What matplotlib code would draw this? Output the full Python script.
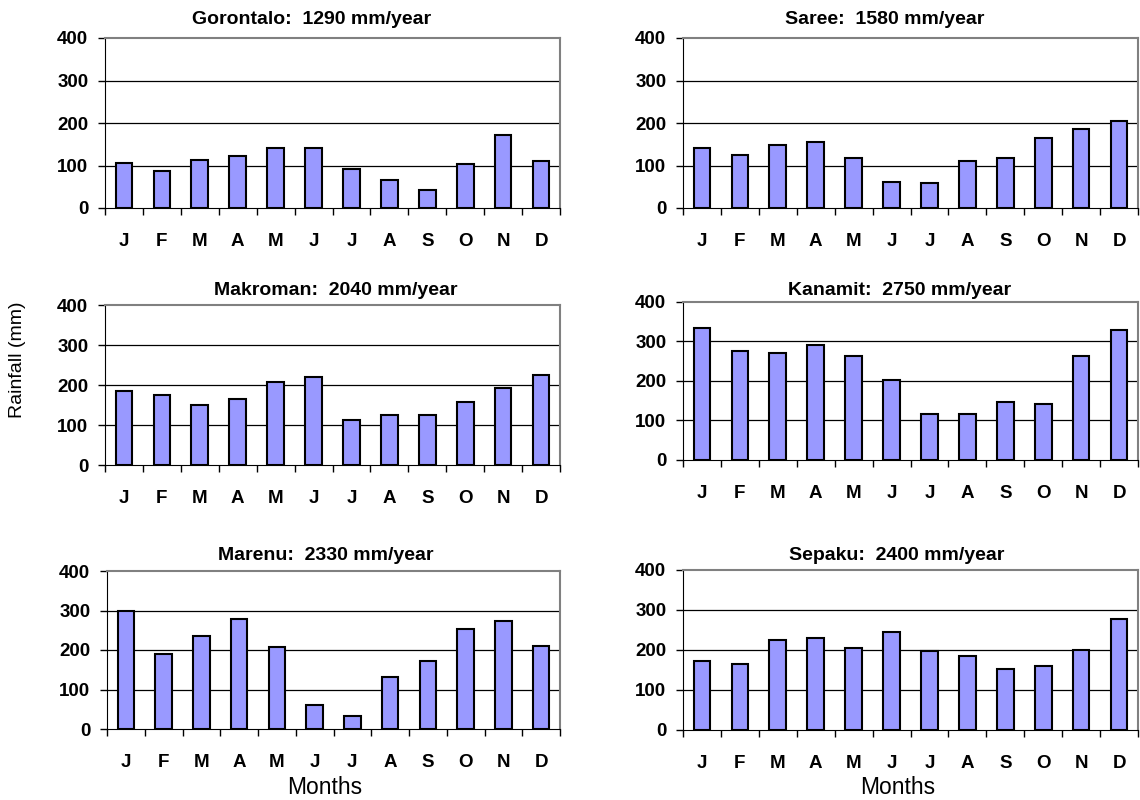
import matplotlib
matplotlib.use("Agg")
import matplotlib.pyplot as plt
import numpy as np

plt.rcParams['font.family'] = ['Liberation Sans', 'DejaVu Sans']

months = ["J", "F", "M", "A", "M", "J", "J", "A", "S", "O", "N", "D"]

gorontalo = [106, 88, 114, 122, 141, 141, 92, 66, 43, 104, 171, 111]
saree = [141, 125, 148, 155, 118, 61, 58, 110, 118, 164, 186, 204]
makroman = [184, 176, 149, 165, 208, 221, 112, 125, 125, 157, 192, 224]
kanamit = [335, 275, 270, 291, 263, 202, 117, 117, 146, 141, 263, 328]
marenu = [300, 190, 235, 279, 207, 61, 34, 131, 171, 252, 273, 211]
sepaku = [173, 165, 225, 229, 205, 246, 198, 185, 153, 161, 201, 278]

stations = ["Gorontalo", "Saree", "Makroman", "Kanamit", "Marenu", "Sepaku"]
totals = [1290, 1580, 2040, 2750, 2330, 2400]
series = [gorontalo, saree, makroman, kanamit, marenu, sepaku]

W, H = 1140, 800
# panel boxes in pixels: left, right, top, bottom
boxes = [(105, 560, 38, 208), (683, 1138, 38, 208),
         (105, 560, 305, 465), (683, 1138, 302, 460),
         (107, 560, 571, 729), (683, 1138, 570, 730)]
# title centres in pixels
title_pos = [(312, 20), (885, 20), (336, 290), (900, 290), (326, 556), (897, 556)]

fig = plt.figure(figsize=(W / 100, H / 100), dpi=100)

for name, total, vals, (l, r, t, b), (tx, ty) in zip(stations, totals, series,
                                                      boxes, title_pos):
    ax = fig.add_axes([l / W, 1 - b / H, (r - l) / W, (b - t) / H])
    x = np.arange(len(months))
    ax.bar(x, vals, width=0.44, color="#9999ff", edgecolor="black",
           linewidth=1.5, zorder=3)
    ax.set_xlim(-0.5, 11.5)
    ax.set_ylim(0, 400)
    ax.set_yticks([0, 100, 200, 300, 400])
    for yv in [100, 200, 300]:
        ax.axhline(yv, color="black", linewidth=0.9, zorder=1)
    ax.set_xticks(np.arange(-0.5, 12, 1))
    ax.set_xticklabels([])
    ax.set_xticks(x, minor=True)
    ax.set_xticklabels(months, minor=True, fontsize=13.5, fontweight="bold")
    ax.tick_params(axis="x", which="major", direction="out", length=5,
                   width=1, color="black")
    ax.tick_params(axis="x", which="minor", length=0, pad=18)
    ax.tick_params(axis="y", direction="out", length=5, width=1, pad=7,
                   labelsize=13.5)
    for lab in ax.get_yticklabels():
        lab.set_fontweight("bold")
    ax.spines["top"].set_color("#808080")
    ax.spines["right"].set_color("#808080")
    ax.spines["top"].set_linewidth(1.5)
    ax.spines["right"].set_linewidth(1.5)
    ax.spines["left"].set_color("black")
    ax.spines["bottom"].set_color("black")
    fig.text(tx / W, 1 - ty / H, f"{name}:  {total} mm/year", fontsize=14,
             fontweight="bold", ha="center", va="center")

fig.text(18 / W, 1 - 360 / H, "Rainfall (mm)", rotation=90, fontsize=14,
         ha="center", va="center")
fig.text(325 / W, 1 - 788 / H, "Months", fontsize=16.5, ha="center",
         va="center")
fig.text(898 / W, 1 - 788 / H, "Months", fontsize=16.5, ha="center",
         va="center")

fig.savefig("out.png", dpi=100)
